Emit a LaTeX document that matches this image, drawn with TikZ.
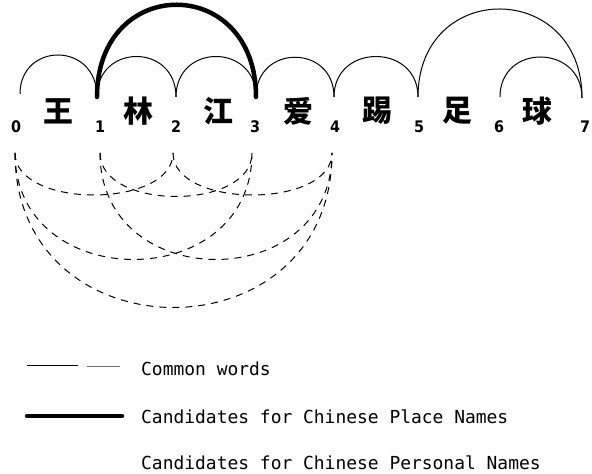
\documentclass[tikz,border=0pt]{standalone}
\usepackage{fontspec}
\newfontfamily\cjkfont{Noto Sans CJK SC}
\newfontfamily\monofont{DejaVu Sans Mono}
\newfontfamily\numfont{DejaVu Sans Condensed}
\begin{document}
\begin{tikzpicture}[x=1bp,y=1bp,
  hanzi/.style={font=\cjkfont\bfseries\fontsize{30}{30}\selectfont, inner sep=0pt},
  idx/.style={font=\numfont\bfseries\fontsize{16}{16}\selectfont, inner sep=0pt},
  legtext/.style={font=\monofont\fontsize{18}{18}\selectfont, anchor=west, inner sep=0pt},
  common/.style={line width=1bp},
  place/.style={line width=4.5bp, line cap=round},
  person/.style={line width=1bp, dash pattern=on 7bp off 6bp}]
\useasboundingbox (0,0) rectangle (592,474);
% characters
\node[hanzi] (c1) at (58,363) {王};
\node[hanzi] (c2) at (138,363) {林};
\node[hanzi] (c3) at (218,363) {江};
\node[hanzi] (c4) at (298,363) {爱};
\node[hanzi] (c5) at (377,363) {踢};
\node[hanzi] (c6) at (457,363) {足};
\node[hanzi] (c7) at (537,363) {球};
% indices
\node[idx] (n0) at (16,347) {0};
\node[idx] (n1) at (100,347) {1};
\node[idx] (n2) at (176,347) {2};
\node[idx] (n3) at (255,347) {3};
\node[idx] (n4) at (335,347) {4};
\node[idx] (n5) at (419,347) {5};
\node[idx] (n6) at (499,347) {6};
\node[idx] (n7) at (585,347) {7};
% top anchors
\coordinate (t0) at (20,380);
\coordinate (t1) at (97,377);
\coordinate (t2) at (176,377);
\coordinate (t3) at (256,377);
\coordinate (t4) at (334,377);
\coordinate (t5) at (418,377);
\coordinate (t6) at (500,377);
\coordinate (t7) at (582,376);
% bottom anchors
\coordinate (b0) at (15,321);
\coordinate (b1) at (100,321);
\coordinate (b2) at (173,321);
\coordinate (b3) at (252,321);
\coordinate (b4) at (332,321);
% common words
\draw[common] (t0) .. controls +(0,52) and +(0,56) .. (t1);
\draw[common] (t1) .. controls +(0,54) and +(0,54) .. (t2);
\draw[common] (t2) .. controls +(0,54) and +(0,54) .. (t3);
\draw[common] (t3) .. controls +(0,53) and +(0,53) .. (t4);
\draw[common] (t4) .. controls +(0,54) and +(0,54) .. (t5);
\draw[common] (t6) .. controls +(0,54) and +(0,54) .. (t7);
\draw[common] (t5) .. controls +(0,118) and +(0,118) .. (t7);
% place name candidate
\draw[place] (t1) .. controls +(0,123) and +(0,123) .. (t3);
% personal name candidates
\draw[person] (b0) .. controls +(0,-56) and +(0,-56) .. (b2);
\draw[person] (b1) .. controls +(0,-58) and +(0,-58) .. (b3);
\draw[person] (b2) .. controls +(0,-56) and +(0,-56) .. (b4);
\draw[person] (b0) .. controls +(0,-142) and +(0,-142) .. (b3);
\draw[person] (b1) .. controls +(0,-142) and +(0,-142) .. (b4);
\draw[person] (b0) .. controls +(0,-206) and +(0,-206) .. (b4);
% legend
\coordinate (la) at (27,108);
\coordinate (lb) at (78,108);
\coordinate (lc) at (87,108);
\coordinate (ld) at (120,108);
\coordinate (le) at (27,58);
\coordinate (lf) at (122,58);
\draw[common] (la) -- (lb);
\draw[line width=0.8bp, black!55] (lc) -- (ld);
\draw[place] (le) -- (lf);
\node[legtext] (lt1) at (141,105) {Common words};
\node[legtext] (lt2) at (141,57) {Candidates for Chinese Place Names};
\node[legtext] (lt3) at (141,11) {Candidates for Chinese Personal Names};
\end{tikzpicture}
\end{document}
